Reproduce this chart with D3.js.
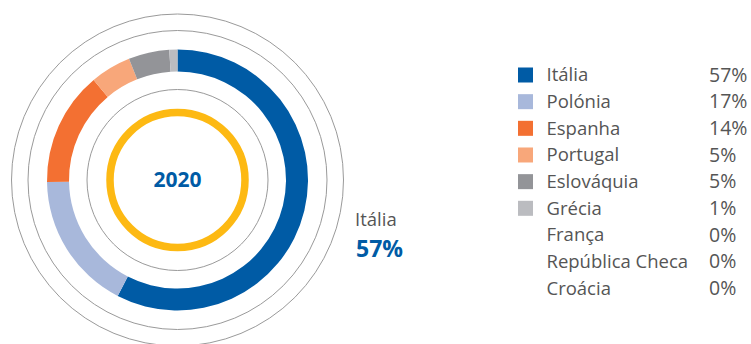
<!DOCTYPE html>
<html><head><meta charset="utf-8">
<script src="https://cdn.jsdelivr.net/npm/d3@7"></script>
<style>html,body{margin:0;padding:0;background:#fff;}svg{display:block;}</style>
</head><body>
<svg id="chart" width="751" height="344"></svg>
<script>
const categories = ["Itália","Polónia","Espanha","Portugal","Eslováquia","Grécia","França","República Checa","Croácia"];
const values = [57,17,14,5,5,1,0,0,0];
const labels = ["57%","17%","14%","5%","5%","1%","0%","0%","0%"];
const colors = ["#005BA5","#A8B8DB","#F37032","#F8A77A","#939498","#BBBCC0",null,null,null];
const yearLabel = "2020";

const svg = d3.select("#chart");
const cx = 177.5, cy = 180;
const g = svg.append("g").attr("transform", `translate(${cx},${cy})`);
const font = "Open Sans, sans-serif";

// decorative gray rings
[166, 149.5, 90.5].forEach(r => {
  g.append("circle").attr("r", r).attr("fill","none").attr("stroke","#9a9a9a").attr("stroke-width",1);
});
// yellow ring
g.append("circle").attr("r", 67.5).attr("fill","none").attr("stroke","#FDB913").attr("stroke-width",7.5);

const pie = d3.pie().sort(null).value(d => d.v);
const data = categories.map((c,i)=>({c, v: values[i], col: colors[i]}));
const arc = d3.arc().innerRadius(108.5).outerRadius(130.5);
g.selectAll("path.slice").data(pie(data).filter(d=>d.data.v>0)).join("path")
  .attr("class","slice").attr("d", arc).attr("fill", d=>d.data.col);

g.append("text").attr("text-anchor","middle").attr("dy","0.35em")
  .attr("font-family",font).attr("font-weight",700).attr("font-size",21)
  .attr("fill","#005BA5").text(yearLabel);

// callout label
svg.append("text").attr("x",355).attr("y",226).attr("font-family",font)
  .attr("font-size",18.5).attr("fill","#555").text(categories[0]);
svg.append("text").attr("x",356).attr("y",257).attr("font-family",font)
  .attr("font-size",23).attr("font-weight",700).attr("fill","#005BA5").text(labels[0]);

// legend
const y = d3.scalePoint().domain(categories).range([75, 288.3]);
const leg = svg.append("g");
const rows = leg.selectAll("g").data(data).join("g").attr("transform", d=>`translate(0,${y(d.c)})`);
rows.filter(d=>d.col).append("rect").attr("x",518).attr("y",-7.5).attr("width",15).attr("height",15).attr("fill",d=>d.col);
rows.append("text").attr("x",546.5).attr("dy","0.35em").attr("font-family",font)
  .attr("font-size",18.5).attr("fill","#555").text(d=>d.c);
rows.append("text").attr("x",709).attr("dy","0.35em").attr("font-family",font)
  .attr("font-size",19.5).attr("fill","#555").text((d,i)=>labels[i]);
</script>
</body></html>
